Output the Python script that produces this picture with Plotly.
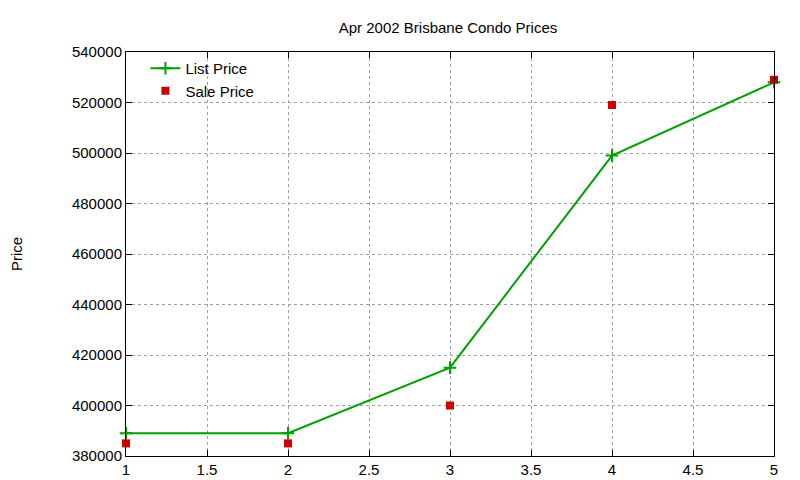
import plotly.graph_objects as go

x = [1, 2, 3, 4, 5]
list_price = [389000, 389000, 415000, 499000, 528000]
sale_price = [385000, 385000, 400000, 519000, 529000]

fig = go.Figure()
fig.add_trace(go.Scatter(x=x, y=list_price, mode="lines+markers", name="List Price",
                         line=dict(color="#00a000", width=2), cliponaxis=False,
                         marker=dict(symbol="cross-thin", size=9, line=dict(color="#00a000", width=2))))
fig.add_trace(go.Scatter(x=x, y=sale_price, mode="markers", name="Sale Price",
                         marker=dict(symbol="square", size=8, color="#d00000"), cliponaxis=False))

axis_common = dict(showline=True, mirror="ticks", linecolor="black", linewidth=1,
                   ticks="inside", ticklen=6, tickcolor="black", automargin=False,
                   showgrid=True, gridcolor="#a0a0a0", griddash="dot", gridwidth=1,
                   zeroline=False, tickfont=dict(size=15, color="black"))
fig.update_layout(
    width=800, height=480,
    paper_bgcolor="white", plot_bgcolor="white",
    font=dict(family="Liberation Sans, Arial, sans-serif", color="black"),
    margin=dict(l=118, r=34, t=44, b=32, autoexpand=False),
    title=dict(text="Apr 2002 Brisbane Condo Prices", x=0.55, xanchor="center",
               yref="container", y=0.958, yanchor="middle", font=dict(size=15)),
    xaxis=dict(range=[1, 5], dtick=0.5, **axis_common),
    yaxis=dict(range=[380000, 540000], dtick=20000, tickformat="d",
               title=dict(text="Price", font=dict(size=15), standoff=50), **axis_common),
    legend=dict(x=0.03, y=1.0, xanchor="left", yanchor="top", bgcolor="rgba(0,0,0,0)",
                font=dict(size=15), tracegroupgap=0),
    showlegend=True,
)
fig.write_html("out.html")
